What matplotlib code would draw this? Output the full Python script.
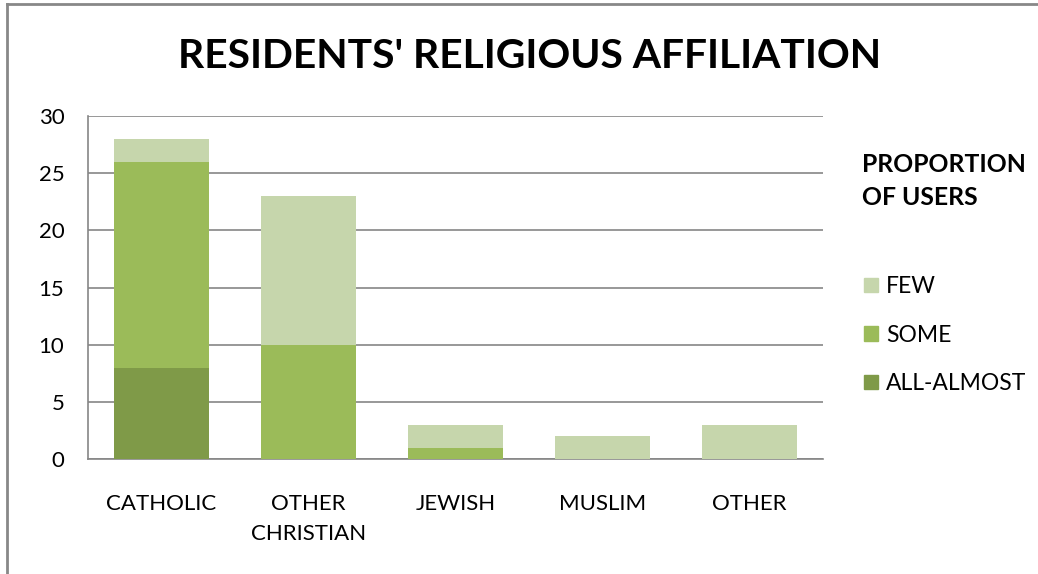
import matplotlib.pyplot as plt
import matplotlib.patches as mpatches
from matplotlib.lines import Line2D
import numpy as np

plt.rcParams["font.family"] = ["Lato", "DejaVu Sans"]

categories = ["CATHOLIC", "OTHER\nCHRISTIAN", "JEWISH", "MUSLIM", "OTHER"]
all_almost = [8, 0, 0, 0, 0]
some = [18, 10, 1, 0, 0]
few = [2, 13, 2, 2, 3]

series_labels = ["ALL-ALMOST", "SOME", "FEW"]
series_colors = ["#7F9A48", "#9BBB59", "#C6D6AC"]

GRID = "#868686"

fig = plt.figure(figsize=(10.38, 5.74), dpi=100)
ax = fig.add_axes([88 / 1038, 1 - 459 / 574, 735 / 1038, 343 / 574])

x = np.arange(len(categories))
bottom = np.zeros(len(categories))
handles = []
for vals, label, color in zip([all_almost, some, few], series_labels, series_colors):
    ax.bar(x, vals, width=0.65, bottom=bottom, color=color, linewidth=0, zorder=3)
    bottom += np.array(vals)
    handles.append(mpatches.Patch(color=color, label=label))

ax.set_xlim(-0.5, len(categories) - 0.5)
ax.set_ylim(0, 30)
ax.set_yticks(range(0, 31, 5))
ax.yaxis.grid(True, color=GRID, linewidth=1.2, zorder=0)
ax.set_axisbelow(True)

for side in ["top", "right"]:
    ax.spines[side].set_visible(False)
for side in ["left", "bottom"]:
    ax.spines[side].set_color(GRID)
    ax.spines[side].set_linewidth(1.2)

ax.tick_params(axis="both", length=0, labelsize=16, colors="#000000")
ax.tick_params(axis="y", pad=17)
ax.tick_params(axis="x", pad=25)
ax.set_xticks(x)
ax.set_xticklabels(categories, linespacing=1.65)

fig.text(530 / 1038, 1 - 57 / 574, "RESIDENTS' RELIGIOUS AFFILIATION",
         ha="center", va="center", fontsize=29.3, fontweight="bold")

# legend title sits well above the swatches, so it is placed on its own
fig.text(862 / 1038, 1 - 181 / 574, "PROPORTION\nOF USERS",
         ha="left", va="center", fontsize=17.8, fontweight="bold", linespacing=1.55)

fig.legend(handles=handles[::-1], loc="upper left",
           bbox_to_anchor=(864 / 1038, 1 - 276 / 574), frameon=False,
           fontsize=16.5, handlelength=0.6, handleheight=0.6,
           handletextpad=0.35, labelspacing=1.2, borderpad=0, borderaxespad=0)

# grey outline along the top and left edges
fig.add_artist(Line2D([7 / 1038, 1.0], [1 - 4 / 574, 1 - 4 / 574],
                      color="#888888", linewidth=2, transform=fig.transFigure))
fig.add_artist(Line2D([7 / 1038, 7 / 1038], [0.0, 1 - 4 / 574],
                      color="#888888", linewidth=2, transform=fig.transFigure))

fig.savefig("out.png", dpi=100)
